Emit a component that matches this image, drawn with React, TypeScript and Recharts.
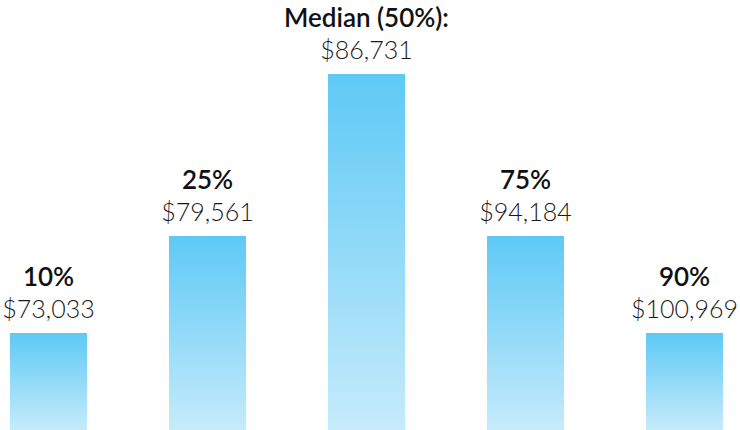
import React from 'react';
import { BarChart, Bar, XAxis, YAxis, LabelList } from 'recharts';

// percentile categories and the salary shown above each bar
const percentiles = ['10%', '25%', 'Median (50%):', '75%', '90%'];
const salaries = [73033, 79561, 86731, 94184, 100969];
// bar heights as drawn (display units, not proportional to salary)
const barHeights = [97, 194, 356, 194, 97];

const data = percentiles.map((p, i) => ({
  name: p,
  salary: salaries[i],
  height: barHeights[i],
}));

const fontFamily = 'Lato, "Open Sans", sans-serif';

const BarLabel = (props: any) => {
  const { x, y, width, index } = props;
  const cx = x + width / 2;
  return (
    <g>
      <text x={cx} y={y - 47} textAnchor="middle" fontFamily={fontFamily} fontSize={26} fontWeight={600} fill="#111">
        {percentiles[index]}
      </text>
      <text x={cx} y={y - 15} textAnchor="middle" fontFamily={fontFamily} fontSize={25} fontWeight={300} fill="#1a1a1a">
        {'$' + salaries[index].toLocaleString('en-US')}
      </text>
    </g>
  );
};

const App: React.FC = () => {
  return (
    <div style={{ position: 'absolute', left: 0, top: 0, width: 740, height: 430, overflow: 'hidden', background: '#fff' }}>
      <div style={{ marginLeft: -31 }}>
        <BarChart width={795} height={430} data={data} margin={{ top: 0, right: 0, left: 0, bottom: 0 }} barSize={77}>
          <defs>
            <linearGradient id="barFill" x1="0" y1="0" x2="0" y2="1">
              <stop offset="0%" stopColor="#5ec9f5" />
              <stop offset="100%" stopColor="#c6ebfb" />
            </linearGradient>
          </defs>
          <XAxis dataKey="name" hide />
          <YAxis hide domain={[0, 430]} />
          <Bar dataKey="height" fill="url(#barFill)" isAnimationActive={false}>
            <LabelList dataKey="height" content={BarLabel} />
          </Bar>
        </BarChart>
      </div>
    </div>
  );
};

export default App;
